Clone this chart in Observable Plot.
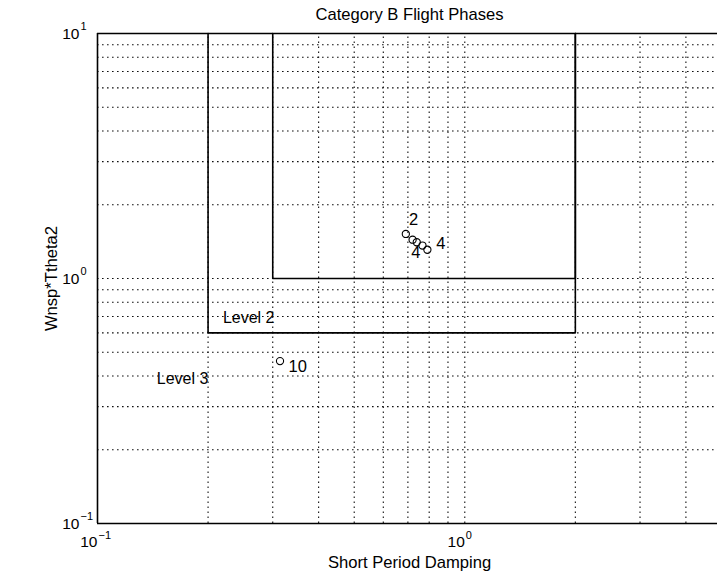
<!DOCTYPE html>
<html><head><meta charset="utf-8">
<script src="https://cdn.jsdelivr.net/npm/d3@7"></script>
<script src="https://cdn.jsdelivr.net/npm/@observablehq/plot@0.6"></script>
<style>body{margin:0;background:#fff}</style>
</head><body><div id="chart"></div>
<script>
// Flight-condition points
const damping     = [0.691, 0.721, 0.740, 0.767, 0.791, 0.314];
const wnspTtheta2 = [1.52, 1.44, 1.406, 1.363, 1.31, 0.46];
// point labels
const pointLabels = ["2", "4", "4", "10"];
const labelX = [0.726, 0.860, 0.736, 0.351];
const labelY = [1.74, 1.385, 1.28, 0.438];
// level boundaries
const level1X = [0.3, 0.3, 2, 2];
const level1Y = [10, 1, 1, 10];
const level2X = [0.2, 0.2, 2, 2];
const level2Y = [10, 0.6, 0.6, 10];
const levelNames = ["Level 2", "Level 3"];
const levelNameX = [0.258, 0.1705];
const levelNameY = [0.693, 0.391];
// grid & ticks
const xGrid = [0.2, 0.3, 0.4, 0.5, 0.6, 0.7, 0.8, 0.9, 1, 2, 3, 4];
const yGrid = [0.2, 0.3, 0.4, 0.5, 0.6, 0.7, 0.8, 0.9, 1, 2, 3, 4, 5, 6, 7, 8, 9];
const xTicks = [0.1, 1];
const xTickExp = ["\u22121", "0"];
const yTicks = [0.1, 1, 10];
const yTickExp = ["\u22121", "0", "1"];
const xDomain = [0.1, 5];
const yDomain = [0.1, 10];

const pts = damping.map((d, i) => ({x: d, y: wnspTtheta2[i]}));
const lbls = pointLabels.map((t, i) => ({t, x: labelX[i], y: labelY[i]}));
const lv1 = level1X.map((x, i) => ({x, y: level1Y[i]}));
const lv2 = level2X.map((x, i) => ({x, y: level2Y[i]}));
const lvn = levelNames.map((t, i) => ({t, x: levelNameX[i], y: levelNameY[i]}));
const xt = xTicks.map((v, i) => ({v, e: xTickExp[i]}));
const yt = yTicks.map((v, i) => ({v, e: yTickExp[i]}));

const font = "Liberation Sans, Arial, Helvetica, sans-serif";
const dots = {stroke: "#111", strokeWidth: 1.1, strokeDasharray: "1.6,3.4"};

const chart = Plot.plot({
  width: 717, height: 576,
  marginLeft: 97, marginRight: -4, marginTop: 33, marginBottom: 53,
  style: {fontFamily: font, fontSize: "16px", color: "#000", background: "#fff"},
  x: {type: "log", domain: xDomain, range: [97, 721], axis: null},
  y: {type: "log", domain: yDomain, range: [523, 33], axis: null},
  marks: [
    Plot.ruleX(xGrid, {y1: yDomain[0], y2: yDomain[1], ...dots}),
    Plot.ruleY(yGrid, {x1: xDomain[0], x2: xDomain[1], ...dots}),
    Plot.ruleY(yDomain, {x1: xDomain[0], x2: xDomain[1], stroke: "#000", strokeWidth: 1.6}),
    Plot.ruleX(xDomain, {y1: yDomain[0], y2: yDomain[1], stroke: "#000", strokeWidth: 1.6}),
    Plot.line(lv2, {x: "x", y: "y", stroke: "#000", strokeWidth: 1.6}),
    Plot.line(lv1, {x: "x", y: "y", stroke: "#000", strokeWidth: 1.6}),
    Plot.dot(pts, {x: "x", y: "y", r: 3.6, stroke: "#000", strokeWidth: 1.1, fill: "none"}),
    Plot.text(lbls, {x: "x", y: "y", text: "t", fontSize: 16.5, fill: "#000"}),
    Plot.text(lvn, {x: "x", y: "y", text: "t", fontSize: 16, fill: "#000"}),
    // y tick labels
    Plot.text(yt, {y: "v", frameAnchor: "left", lineAnchor: "middle", text: () => "10", textAnchor: "end", dx: -18, dy: 1, fontSize: 15.5}),
    Plot.text(yt, {y: "v", frameAnchor: "left", lineAnchor: "middle", text: "e", textAnchor: "start", dx: -17, dy: -7, fontSize: 11}),
    // x tick labels
    Plot.text(xt, {x: "v", frameAnchor: "bottom", lineAnchor: "middle", text: () => "10", textAnchor: "end", dx: 0, dy: 19, fontSize: 15.5}),
    Plot.text(xt, {x: "v", frameAnchor: "bottom", lineAnchor: "middle", text: "e", textAnchor: "start", dx: 1, dy: 12, fontSize: 11}),
    // titles
    Plot.text(["Category B Flight Phases"], {frameAnchor: "top", lineAnchor: "middle", dy: -19, fontSize: 16.6}),
    Plot.text(["Short Period Damping"], {frameAnchor: "bottom", lineAnchor: "middle", dy: 39, fontSize: 16.6}),
    Plot.text(["Wnsp*Ttheta2"], {frameAnchor: "left", textAnchor: "middle", lineAnchor: "middle", dx: -46, rotate: -90, fontSize: 16.6})
  ]
});
document.getElementById("chart").appendChild(chart);
</script>
</body></html>
